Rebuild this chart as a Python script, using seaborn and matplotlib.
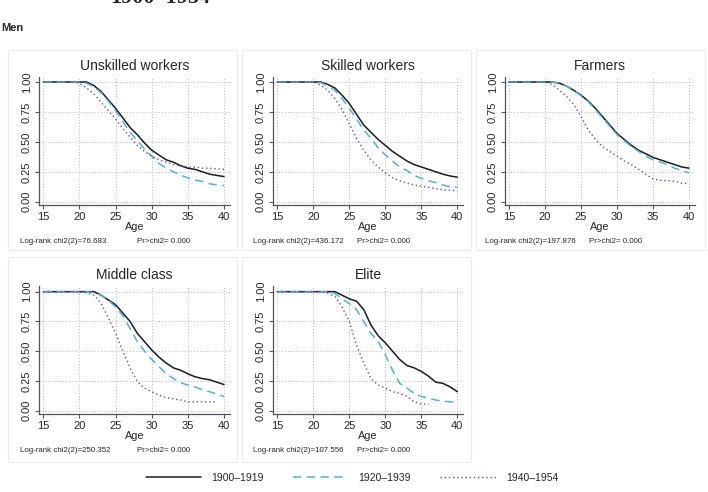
import numpy as np
import seaborn as sns
import matplotlib.pyplot as plt
from matplotlib.patches import Rectangle

nan = np.nan
ages = list(range(15, 41))
cohorts = ["1900\u20131919", "1920\u20131939", "1940\u20131954"]

# survival (share never married) by age
unskilled_1900 = [1]*7 + [0.97, 0.92, 0.85, 0.78, 0.70, 0.62, 0.56, 0.49, 0.43, 0.39, 0.35, 0.33, 0.30, 0.28, 0.27, 0.25, 0.23, 0.22, 0.21]
unskilled_1920 = [1]*6 + [0.99, 0.96, 0.91, 0.84, 0.76, 0.67, 0.58, 0.51, 0.44, 0.38, 0.32, 0.28, 0.25, 0.22, 0.20, 0.18, 0.17, 0.15, 0.14, 0.135]
unskilled_1940 = [1]*5 + [0.99, 0.95, 0.90, 0.83, 0.76, 0.69, 0.61, 0.54, 0.47, 0.42, 0.38, 0.35, 0.33, 0.31, 0.30, 0.29, 0.29, 0.28, 0.28, 0.275, 0.27]

skilled_1900 = [1]*7 + [0.98, 0.95, 0.89, 0.82, 0.73, 0.64, 0.58, 0.52, 0.47, 0.42, 0.38, 0.34, 0.31, 0.29, 0.27, 0.25, 0.23, 0.215, 0.205]
skilled_1920 = [1]*6 + [0.995, 0.97, 0.93, 0.86, 0.78, 0.69, 0.60, 0.53, 0.45, 0.39, 0.34, 0.29, 0.26, 0.22, 0.195, 0.175, 0.16, 0.14, 0.125, 0.12]
skilled_1940 = [1]*6 + [0.975, 0.93, 0.86, 0.77, 0.65, 0.53, 0.43, 0.35, 0.29, 0.24, 0.20, 0.175, 0.155, 0.14, 0.13, 0.12, 0.11, 0.10, 0.095, 0.09]

farmers_1900 = [1]*7 + [0.99, 0.965, 0.93, 0.89, 0.84, 0.78, 0.71, 0.64, 0.57, 0.52, 0.47, 0.43, 0.40, 0.37, 0.35, 0.33, 0.31, 0.29, 0.28]
farmers_1920 = [1]*7 + [0.99, 0.965, 0.93, 0.885, 0.835, 0.77, 0.70, 0.63, 0.56, 0.51, 0.46, 0.42, 0.38, 0.35, 0.33, 0.31, 0.28, 0.26, 0.24]
farmers_1940 = [1]*6 + [0.98, 0.93, 0.88, 0.81, 0.71, 0.60, 0.52, 0.46, 0.42, 0.38, 0.34, 0.31, 0.27, 0.23, 0.19, 0.18, 0.175, 0.17, 0.155, 0.15]

middle_1900 = [1]*8 + [0.97, 0.93, 0.89, 0.82, 0.75, 0.65, 0.58, 0.51, 0.45, 0.40, 0.36, 0.34, 0.31, 0.285, 0.27, 0.26, 0.24, 0.22]
middle_1920 = [1]*7 + [0.99, 0.97, 0.93, 0.87, 0.80, 0.69, 0.58, 0.50, 0.43, 0.37, 0.31, 0.27, 0.235, 0.215, 0.20, 0.175, 0.16, 0.14, 0.12]
middle_1940 = [1]*6 + [0.99, 0.97, 0.90, 0.78, 0.65, 0.50, 0.36, 0.245, 0.19, 0.16, 0.13, 0.11, 0.10, 0.09, 0.075, 0.075, 0.075, 0.075, 0.075, nan]

elite_1900 = [1]*9 + [0.97, 0.94, 0.92, 0.85, 0.72, 0.63, 0.57, 0.50, 0.43, 0.38, 0.36, 0.33, 0.29, 0.24, 0.23, 0.20, 0.16]
elite_1920 = [1]*8 + [0.985, 0.94, 0.90, 0.85, 0.75, 0.65, 0.58, 0.47, 0.34, 0.23, 0.19, 0.145, 0.12, 0.105, 0.09, 0.08, 0.075, 0.07]
elite_1940 = [1]*7 + [0.985, 0.96, 0.87, 0.75, 0.55, 0.40, 0.27, 0.215, 0.19, 0.16, 0.145, 0.12, 0.075, 0.055, 0.055, nan, nan, nan, nan]

titles = ["Unskilled workers", "Skilled workers", "Farmers", "Middle class", "Elite"]
chi2 = ["76.683", "436.172", "197.876", "250.352", "107.556"]
series = [
    (unskilled_1900, unskilled_1920, unskilled_1940),
    (skilled_1900, skilled_1920, skilled_1940),
    (farmers_1900, farmers_1920, farmers_1940),
    (middle_1900, middle_1920, middle_1940),
    (elite_1900, elite_1920, elite_1940),
]

sns.set_theme(style="white")
plt.rcParams['font.family'] = ['Liberation Sans', 'DejaVu Sans']

W, H = 708, 492
fig = plt.figure(figsize=(7.08, 4.92), dpi=100)

def fx(x):
    return x / W

def fy(y):
    return 1 - y / H

# faint panel frames (graph combine look)
boxes = [(8, 50, 237, 250), (242, 50, 471, 250), (476, 50, 705, 250),
         (8, 257, 237, 462), (242, 257, 471, 462)]
for x0, y0, x1, y1 in boxes:
    fig.patches.append(Rectangle((fx(x0), fy(y1)), fx(x1 - x0), (y1 - y0) / H,
                                 transform=fig.transFigure, facecolor="none",
                                 edgecolor="#ececec", lw=0.8, zorder=-1))

# axes positions in pixels: left, top, right, bottom
axpos = [(39, 76.6, 229.8, 205.3), (273, 76.6, 463.1, 205.3), (504.7, 76.6, 694.8, 205.3),
         (39, 286.3, 229.8, 414.3), (273, 286.3, 463.1, 414.3)]
textpos = [(20, 136.7, 241.5), (252.7, 357.3, 241.5), (485, 589.3, 241.5),
           (20, 136.7, 451), (252.7, 357.3, 451)]

colors = ["#1c1c1c", "#55aee0", "#5b4fd0"]
styles = ["-", (0, (5.5, 3.5)), (0, (1, 2))]
widths = [1.1, 1.1, 1.0]

for i in range(5):
    l, t, r, b = axpos[i]
    ax = fig.add_axes([fx(l), fy(b), fx(r - l), (b - t) / H])
    ax.patch.set_alpha(0)
    for k in range(3):
        sns.lineplot(x=ages, y=series[i][k], ax=ax, color=colors[k],
                     linestyle=styles[k], lw=widths[k], estimator=None)
    ax.set_xlim(14.4, 40.8)
    ax.set_ylim(-0.03, 1.045)
    ax.set_xticks([15, 20, 25, 30, 35, 40])
    ax.set_yticks([0, 0.25, 0.5, 0.75, 1.0])
    ax.set_yticklabels(["0.00", "0.25", "0.50", "0.75", "1.00"])
    ax.grid(True, linestyle=(0, (1, 2)), color="#b5b5b5", lw=0.7)
    sns.despine(ax=ax)
    for s in ["left", "bottom"]:
        ax.spines[s].set_color("#555555")
        ax.spines[s].set_linewidth(0.9)
    ax.tick_params(axis="both", which="major", length=3, width=0.8, color="#555555",
                   labelsize=8, pad=2, left=True, bottom=True)
    for lab in ax.get_yticklabels():
        lab.set_rotation(90)
        lab.set_va("center")
    ax.set_xlabel("Age", fontsize=7.8, labelpad=0)
    ax.set_ylabel("")
    ax.set_title(titles[i], fontsize=10, pad=5)
    x1, x2, ty = textpos[i]
    fig.text(fx(x1), fy(ty), "Log-rank chi2(2)=" + chi2[i], fontsize=5.7, va="center")
    fig.text(fx(x2), fy(ty), "Pr>chi2= 0.000", fontsize=5.7, va="center")

handles = ax.lines[:3]
fig.legend(handles, cohorts, loc="center", ncol=3, frameon=False, fontsize=7.5,
           bbox_to_anchor=(fx(352), fy(478)), handlelength=5.3, handletextpad=1.0,
           columnspacing=2.8)

fig.text(fx(1), fy(28), "Men", fontsize=8, fontweight="bold", va="center")
fig.text(fx(160), fy(3), "1900\u20131954", fontsize=16, fontweight="bold",
         family=["Liberation Serif", "DejaVu Serif"], ha="center", va="baseline")

fig.savefig("out.png", dpi=100)
